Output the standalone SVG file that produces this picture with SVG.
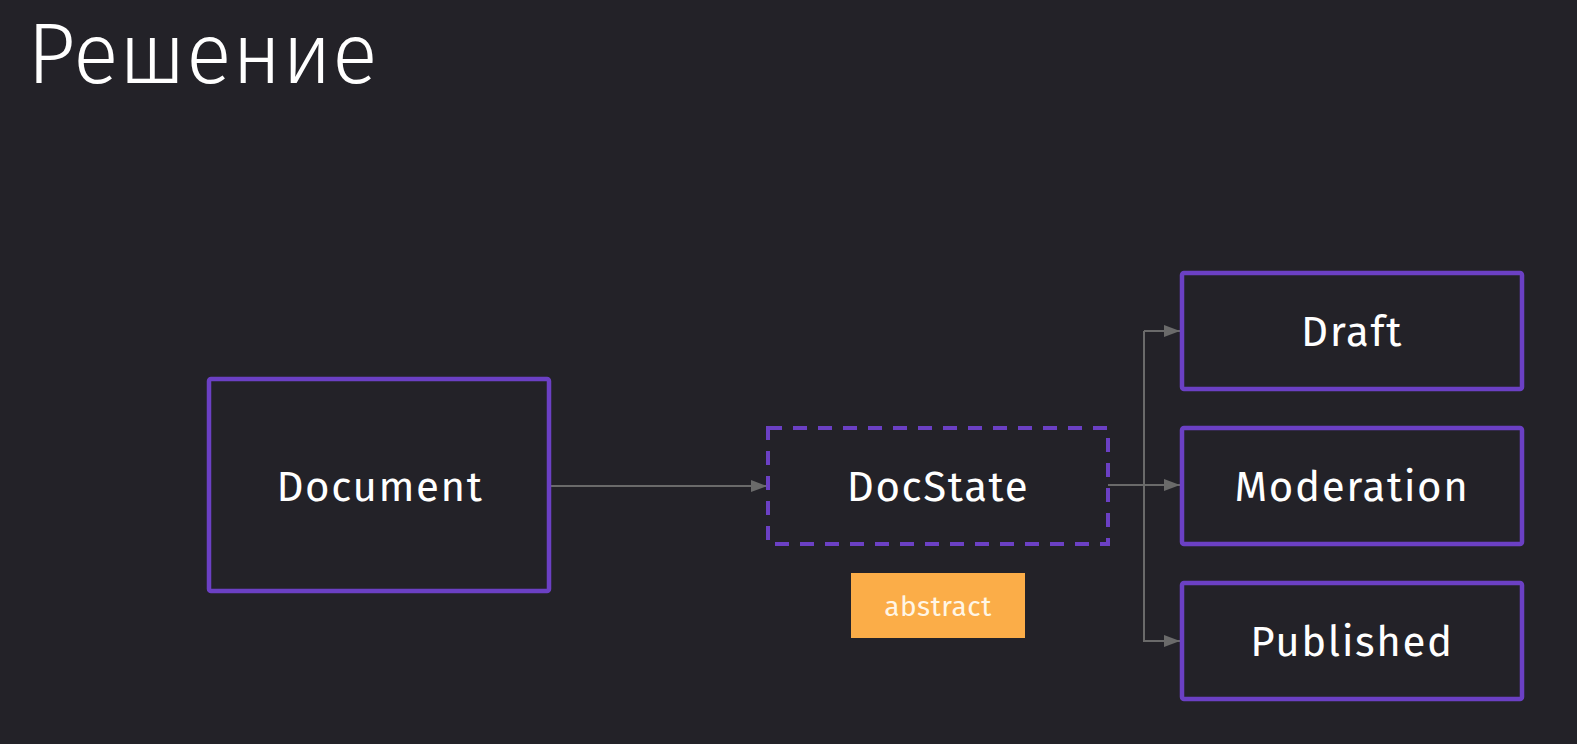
<svg xmlns="http://www.w3.org/2000/svg" width="1577" height="744" viewBox="0 0 1577 744">
<defs>
<style>
.box{fill:#232228;stroke:#6b40c4;stroke-width:4.5;}
.dash{fill:#232228;stroke:#6b40c4;stroke-width:4;stroke-dasharray:14 11;}
.lbl{fill:#ffffff;font-family:"Fira Sans","Open Sans","Noto Sans",sans-serif;font-size:42px;text-anchor:middle;letter-spacing:1.6px;}
.conn{fill:none;stroke:#6a6a6a;stroke-width:2;}
</style>
<marker id="arr" markerWidth="16" markerHeight="12" refX="16" refY="6" orient="auto" markerUnits="userSpaceOnUse">
<path d="M0,0 L16,6 L0,12 Z" fill="#6a6a6a"/>
</marker>
</defs>
<rect width="1577" height="744" fill="#232228"/>
<text x="27" y="83" font-family="Fira Sans, Open Sans, Noto Sans, sans-serif" font-weight="300" font-size="85" fill="#ffffff">Решение</text>
<g id="connectors">
<path class="conn" d="M550,486 L767,486" marker-end="url(#arr)"/>
<path class="conn" d="M1108,485 L1180,485" marker-end="url(#arr)"/>
<path class="conn" d="M1144,331 L1180,331" marker-end="url(#arr)"/>
<path class="conn" d="M1144,331 L1144,641 L1180,641" marker-end="url(#arr)"/>
</g>
<g id="document">
<rect class="box" x="209" y="379" width="340" height="212" rx="2"/>
<text class="lbl" x="380" y="501">Document</text>
</g>
<g id="docstate">
<rect class="dash" x="768" y="428" width="340" height="116"/>
<text class="lbl" x="938" y="501">DocState</text>
</g>
<g id="abstract">
<rect x="851" y="573" width="174" height="65" fill="#fbad48"/>
<text x="938" y="616" font-family="Fira Sans, Open Sans, Noto Sans, sans-serif" font-size="28" fill="#fff6e6" text-anchor="middle" letter-spacing="0.5">abstract</text>
</g>
<g id="draft">
<rect class="box" x="1182" y="273" width="340" height="116" rx="2"/>
<text class="lbl" x="1352" y="346">Draft</text>
</g>
<g id="moderation">
<rect class="box" x="1182" y="428" width="340" height="116" rx="2"/>
<text class="lbl" x="1352" y="501">Moderation</text>
</g>
<g id="published">
<rect class="box" x="1182" y="583" width="340" height="116" rx="2"/>
<text class="lbl" x="1352" y="656">Published</text>
</g>
</svg>
